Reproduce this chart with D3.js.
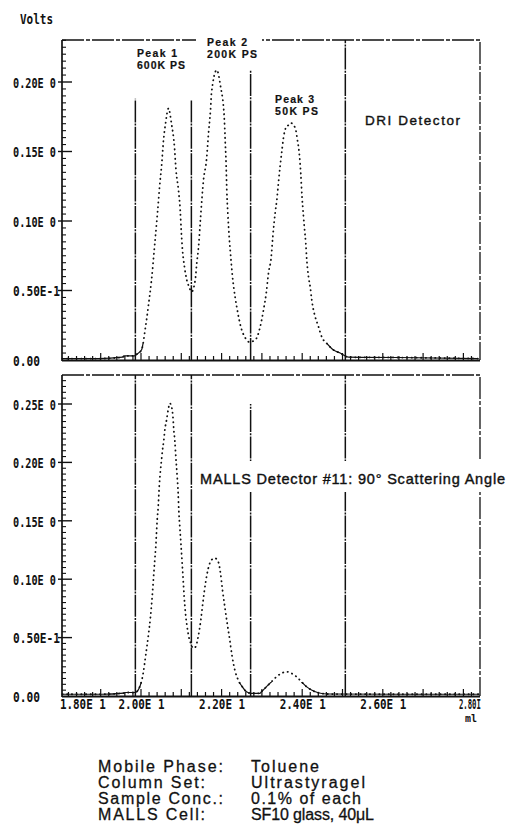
<!DOCTYPE html>
<html><head><meta charset="utf-8">
<script src="https://cdn.jsdelivr.net/npm/d3@7"></script>
<style>
html,body{margin:0;padding:0;background:#fff;}
svg{display:block;}
</style></head>
<body>
<svg id="chart" width="508" height="834"></svg>
<script>
// DRI detector trace (elution volume in ml, signal in volts)
const driMl = [18.05, 18.945, 19.541, 19.591, 19.839, 19.888, 20.012, 20.112, 20.186, 20.261, 20.335, 20.409,
  20.476, 20.509, 20.558, 20.608, 20.682, 20.757, 20.831, 20.868, 20.931, 20.973, 20.998, 21.030, 21.079, 21.136,
  21.196, 21.253, 21.345, 21.385, 21.427, 21.469, 21.509, 21.551, 21.625, 21.675, 21.725, 21.749, 21.881, 21.973,
  22.065, 22.089, 22.114, 22.129, 22.154, 22.189, 22.228, 22.270, 22.337, 22.402, 22.476, 22.586, 22.685, 22.834,
  22.958, 23.040, 23.107, 23.164, 23.231, 23.270, 23.330, 23.370, 23.412, 23.454, 23.494, 23.536, 23.593, 23.660,
  23.717, 23.826, 23.883, 23.926, 23.965, 23.995, 24.030, 24.060, 24.089, 24.114, 24.156, 24.199, 24.238, 24.280,
  24.323, 24.404, 24.486, 24.610, 24.777, 24.943, 25.149, 26.39, 28.375];
const driVolts = [0.001, 0.001, 0.002, 0.003, 0.003, 0.004, 0.0072, 0.0237, 0.0396, 0.0576, 0.0813, 0.1058,
  0.1295, 0.139, 0.158, 0.170, 0.181, 0.170, 0.153, 0.137, 0.122, 0.108, 0.0935, 0.079, 0.067, 0.0575,
  0.0525, 0.049, 0.0575, 0.070, 0.081, 0.0986, 0.115, 0.1295, 0.144, 0.163, 0.180, 0.192, 0.2086, 0.197,
  0.175, 0.158, 0.139, 0.122, 0.106, 0.0885, 0.074, 0.060, 0.045, 0.034, 0.024, 0.016, 0.013, 0.0144,
  0.024, 0.036, 0.048, 0.0626, 0.074, 0.0885, 0.106, 0.115, 0.128, 0.140, 0.150, 0.160, 0.167, 0.169,
  0.1705, 0.167, 0.158, 0.149, 0.134, 0.118, 0.104, 0.0935, 0.084, 0.072, 0.060, 0.0525, 0.043, 0.036,
  0.031, 0.024, 0.0165, 0.012, 0.0072, 0.005, 0.002, 0.0018, 0.001];

// MALLS detector #11 trace (90 degree scattering angle)
const mallsMl = [18.05, 19.02, 19.57, 19.62, 19.85, 19.97, 20.055, 20.112, 20.179, 20.236, 20.278, 20.318,
  20.342, 20.367, 20.402, 20.427, 20.452, 20.484, 20.509, 20.534, 20.566, 20.591, 20.633, 20.675, 20.715,
  20.774, 20.799, 20.814, 20.839, 20.864, 20.898, 20.923, 20.938, 20.963, 20.988, 21.01, 21.047, 21.072,
  21.104, 21.146, 21.186, 21.236, 21.295, 21.352, 21.419, 21.484, 21.543, 21.600, 21.667, 21.749, 21.831,
  21.916, 21.973, 22.022, 22.079, 22.139, 22.203, 22.263, 22.328, 22.412, 22.511, 22.618, 22.742, 22.948,
  22.990, 23.114, 23.238, 23.362, 23.486, 23.610, 23.734, 23.859, 23.983, 24.107, 24.231, 24.397, 24.645,
  26.464, 28.40];
const mallsVolts = [0.0015, 0.0015, 0.0025, 0.003, 0.003, 0.008, 0.0197, 0.0336, 0.0508, 0.068, 0.085, 0.105,
  0.1164, 0.128, 0.151, 0.162, 0.179, 0.1935, 0.202, 0.2106, 0.219, 0.2277, 0.236, 0.245, 0.2506,
  0.245, 0.236, 0.2277, 0.219, 0.205, 0.188, 0.1735, 0.159, 0.145, 0.132, 0.120, 0.0993, 0.085,
  0.0708, 0.059, 0.0508, 0.045, 0.0408, 0.042, 0.0508, 0.065, 0.082, 0.0965, 0.109, 0.1164, 0.118,
  0.115, 0.105, 0.0908, 0.0765, 0.0622, 0.048, 0.0336, 0.0223, 0.0137, 0.008, 0.0037, 0.0023, 0.0023,
  0.0037, 0.008, 0.0122, 0.0165, 0.0194, 0.0208, 0.0194, 0.0165, 0.0122, 0.008, 0.0051, 0.0028, 0.0017,
  0.0015, 0.0015];

// Slice boundaries (ml) and the height each marker reaches in each panel (null = full height)
const sliceMl = [19.86, 21.25, 22.72, 25.07];
const driSliceTop = [0.188, 0.187, 0.209, null];
const mallsSliceTop = [null, null, 0.25, null];

const xTickValues = [18, 20, 22, 24, 26, 28];
const xTickLabels = ["1.80E 1", "2.00E 1", "2.20E 1", "2.40E 1", "2.60E 1", "2.80I"];
const driTickValues = [0, 0.05, 0.10, 0.15, 0.20];
const driTickLabels = ["0.00", "0.50E-1", "0.10E 0", "0.15E 0", "0.20E 0"];
const mallsTickValues = [0, 0.05, 0.10, 0.15, 0.20, 0.25];
const mallsTickLabels = ["0.00", "0.50E-1", "0.10E 0", "0.15E 0", "0.20E 0", "0.25E 0"];

const peakNames = ["Peak 1", "Peak 2", "Peak 3"];
const peakSamples = ["600K PS", "200K PS", "50K PS"];
const conditionNames = ["Mobile Phase:", "Column Set:", "Sample Conc.:", "MALLS Cell:"];
const conditionValues = ["Toluene", "Ultrastyragel", "0.1% of each", "SF10 glass, 40\u03bcL"];

const svg = d3.select("#chart");
const ink = "#111";
const monoFont = "'DejaVu Sans Mono', 'Liberation Mono', monospace";
const sansFont = "'Liberation Sans', Arial, Helvetica, sans-serif";

const left = 62, right = 480;
const x = d3.scaleLinear().domain([20, 24]).range([141, 302.2]);

function mono(sel, size, width) {
  sel.attr("font-family", monoFont).attr("font-size", size).attr("font-weight", "bold").attr("fill", ink)
     .attr("textLength", width).attr("lengthAdjust", "spacingAndGlyphs");
}

const panels = [
  { key: "dri", ml: driMl, volts: driVolts, top: 40, bottom: 360, vMax: 0.20, pxMax: 82,
    ticks: driTickValues, labels: driTickLabels, sliceTop: driSliceTop, xLabels: false },
  { key: "malls", ml: mallsMl, volts: mallsVolts, top: 375, bottom: 696, vMax: 0.25, pxMax: 404,
    ticks: mallsTickValues, labels: mallsTickLabels, sliceTop: mallsSliceTop, xLabels: true }
];

const defs = svg.append("defs");

panels.forEach(p => {
  const y = d3.scaleLinear().domain([0, p.vMax]).range([p.bottom, p.pxMax]);
  const g = svg.append("g");
  const topVal = y.invert(p.top);

  // slice markers
  sliceMl.forEach((m, i) => {
    const t = p.sliceTop[i] == null ? p.top : y(p.sliceTop[i]);
    g.append("line").attr("x1", x(m)).attr("x2", x(m)).attr("y1", p.bottom).attr("y2", t)
      .attr("stroke", ink).attr("stroke-width", 1.5).attr("stroke-dasharray", "22,1.2,2,1.2");
  });

  // frame: dashed top and right edges, solid axes
  g.append("path").attr("d", `M${left},${p.top}H${right}V${p.bottom}`)
    .attr("fill", "none").attr("stroke", ink).attr("stroke-width", 1.3)
    .attr("stroke-dasharray", "22,2,4,2");
  g.append("line").attr("x1", left).attr("x2", left).attr("y1", p.top).attr("y2", p.bottom + 1)
    .attr("stroke", ink).attr("stroke-width", 1.7);
  g.append("line").attr("x1", left).attr("x2", right).attr("y1", p.bottom + 0.5).attr("y2", p.bottom + 0.5)
    .attr("stroke", ink).attr("stroke-width", 2.2);

  // y ticks: minor every 0.005, major every 0.05
  const nMinor = Math.floor(topVal / 0.005 + 1e-6);
  d3.range(1, nMinor + 1).map(k => k * 0.005).forEach(v => {
    const major = Math.abs(v / 0.05 - Math.round(v / 0.05)) < 1e-6;
    g.append("line").attr("x1", major ? left - 4 : left).attr("x2", major ? left + 10 : left + 4)
      .attr("y1", y(v)).attr("y2", y(v)).attr("stroke", ink).attr("stroke-width", major ? 1.4 : 1.1);
  });

  // y labels
  const ay = d3.axisLeft(y).tickValues(p.ticks).tickFormat((d, i) => p.labels[i]).tickSize(0).tickPadding(0);
  const ayG = g.append("g").attr("transform", `translate(${left},0)`).call(ay);
  ayG.select(".domain").remove();
  ayG.selectAll("text").attr("x", 13 - left).attr("dy", "0.37em").attr("text-anchor", "start")
    .each(function(d, i) {
      const s = p.labels[i];
      mono(d3.select(this), 14.5, s.length <= 4 ? 27 : (s.indexOf("-") >= 0 ? 47 : 43));
    });

  // x ticks
  d3.range(91, 143).map(k => k * 0.2).filter(m => x(m) > left + 3 && x(m) < right - 3).forEach(m => {
    const whole = Math.abs(m - Math.round(m)) < 1e-6;
    g.append("line").attr("x1", x(m)).attr("x2", x(m)).attr("y1", p.bottom).attr("y2", p.bottom - (whole ? 7 : 4))
      .attr("stroke", ink).attr("stroke-width", 1.2);
  });

  if (p.xLabels) {
    const last = xTickLabels.length - 1;
    const ax = d3.axisBottom(x).tickValues(xTickValues).tickFormat((d, i) => xTickLabels[i]).tickSize(0).tickPadding(0);
    const axG = g.append("g").attr("transform", `translate(0,${p.bottom + 1})`).call(ax);
    axG.select(".domain").remove();
    axG.selectAll("text").attr("y", 12).attr("dy", 0)
      .attr("x", (d, i) => i === 0 ? -1 : (i === last ? -5 : 0))
      .attr("text-anchor", (d, i) => (i === 0 || i === last) ? "start" : "middle")
      .each(function(d, i) {
        mono(d3.select(this), 14.5, i === last ? 22 : 46);
      });
    const mlT = g.append("text").attr("x", 465).attr("y", p.bottom + 26).text("ml");
    mono(mlT, 10, 12);
  }

  // trace: dotted, with a solid stroke near the baseline where samples run together
  const pts = d3.zip(p.ml, p.volts);
  const line = d3.line().x(d => x(d[0])).y(d => y(d[1])).curve(d3.curveMonotoneX);
  g.append("path").attr("d", line(pts)).attr("fill", "none").attr("stroke", ink)
    .attr("stroke-width", 1.8).attr("stroke-linecap", "round").attr("stroke-dasharray", "0.3,4.4");
  const clipId = "low-" + p.key;
  defs.append("clipPath").attr("id", clipId).append("rect")
    .attr("x", left).attr("y", y(0.012)).attr("width", right - left).attr("height", p.bottom - y(0.012) + 2);
  g.append("path").attr("d", line(pts)).attr("fill", "none").attr("stroke", ink)
    .attr("stroke-width", 1.2).attr("clip-path", `url(#${clipId})`);
});

// axis unit
const volts = svg.append("text").attr("x", 20).attr("y", 24).text("Volts");
mono(volts, 14, 33);

// peak annotations in the DRI panel
const peakPos = [[137, 57], [207, 46], [275, 103]];
const peakW = [[40, 48], [40, 50], [39, 43]];
svg.append("rect").attr("x", 196).attr("y", 34).attr("width", 66).attr("height", 26).attr("fill", "#fff");
peakNames.forEach((n, i) => {
  [n, peakSamples[i]].forEach((s, j) => {
    svg.append("text").attr("x", peakPos[i][0]).attr("y", peakPos[i][1] + j * 11.5).text(s)
      .attr("font-family", sansFont).attr("font-weight", "bold").attr("font-size", 10.5).attr("fill", ink)
      .attr("stroke", ink).attr("stroke-width", 0.2)
      .attr("textLength", peakW[i][j]).attr("lengthAdjust", "spacing");
  });
});

svg.append("text").attr("x", 365).attr("y", 125).text("DRI Detector")
  .attr("font-family", sansFont).attr("font-size", 13.5).attr("fill", ink)
  .attr("stroke", ink).attr("stroke-width", 0.4)
  .attr("textLength", 95).attr("lengthAdjust", "spacing");

svg.append("rect").attr("x", 197).attr("y", 461).attr("width", 311).attr("height", 31).attr("fill", "#fff");
svg.append("text").attr("x", 200).attr("y", 484).text("MALLS Detector #11: 90\u00b0 Scattering Angle")
  .attr("font-family", sansFont).attr("font-size", 14.5).attr("fill", ink)
  .attr("stroke", ink).attr("stroke-width", 0.4)
  .attr("textLength", 305).attr("lengthAdjust", "spacing");

// run conditions
const nameW = [125, 107, 125, 107];
const valueW = [68, 114, 110, 123];
conditionNames.forEach((n, i) => {
  const yy = 772 + i * 16;
  svg.append("text").attr("x", 98).attr("y", yy).text(n)
    .attr("font-family", sansFont).attr("font-size", 16).attr("fill", ink)
    .attr("stroke", ink).attr("stroke-width", 0.3)
    .attr("textLength", nameW[i]).attr("lengthAdjust", "spacing");
  svg.append("text").attr("x", 251).attr("y", yy).text(conditionValues[i])
    .attr("font-family", sansFont).attr("font-size", 16).attr("fill", ink)
    .attr("stroke", ink).attr("stroke-width", 0.3)
    .attr("textLength", valueW[i]).attr("lengthAdjust", "spacing");
});
</script>
</body></html>
